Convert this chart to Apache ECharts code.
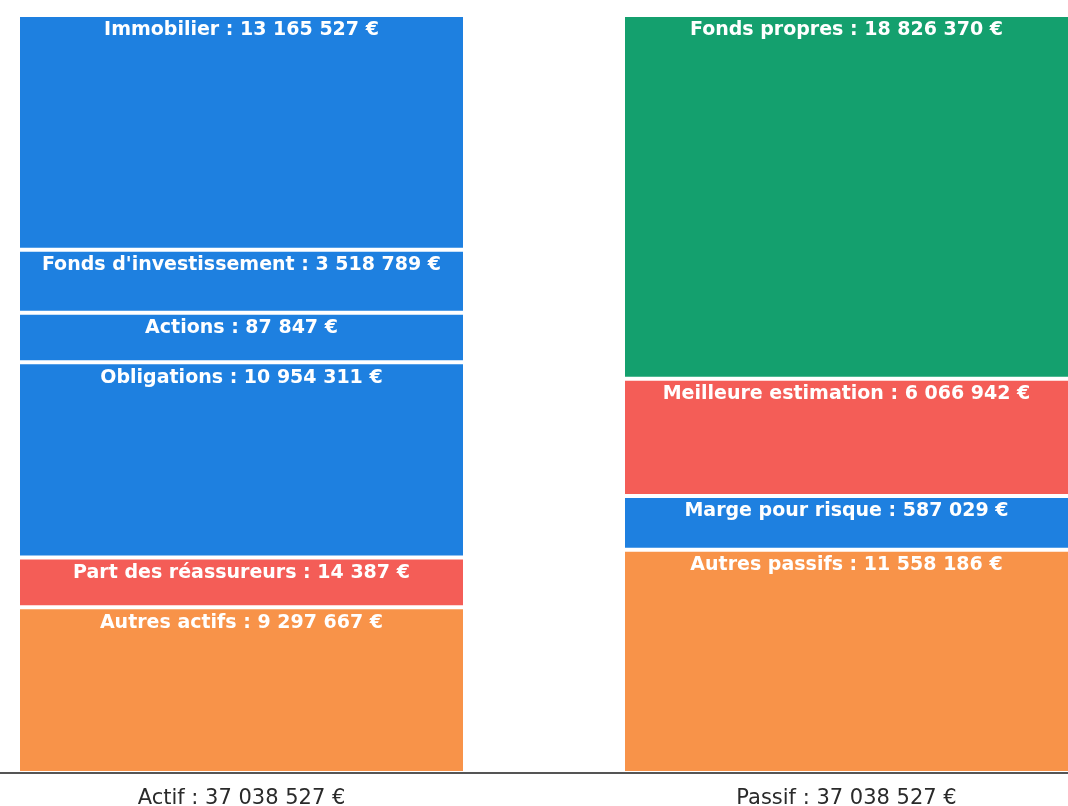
<!DOCTYPE html>
<html>
<head>
<meta charset="utf-8">
<script src="https://cdn.jsdelivr.net/npm/echarts@6/dist/echarts.min.js"></script>
<style>html,body{margin:0;padding:0;background:#fff;}#c{width:1068px;height:806px;}</style>
</head>
<body>
<div id="c"></div>
<script>
// Column categories (axis labels)
const columns = ['Actif', 'Passif'];
const columnTotals = [37038527, 37038527];

// Actif segments, listed bottom to top
const actifNames = ['Autres actifs', 'Part des réassureurs', 'Obligations', 'Actions', "Fonds d'investissement", 'Immobilier'];
const actifValues = [9297667, 14387, 10954311, 87847, 3518789, 13165527];
const actifKinds = ['other', 'reins', 'asset', 'asset', 'asset', 'asset'];

// Passif segments, listed bottom to top
const passifNames = ['Autres passifs', 'Marge pour risque', 'Meilleure estimation', 'Fonds propres'];
const passifValues = [11558186, 587029, 6066942, 18826370];
const passifKinds = ['other', 'asset', 'reins', 'equity'];

const COLORS = { asset: '#1E80E0', reins: '#F45D57', other: '#F89349', equity: '#14A06E' };
// segments smaller than this share of the column are drawn at this minimum share so their label fits
const MIN_SHARE = 0.075;

function fmt(v) { return String(v).replace(/\B(?=(\d{3})+(?!\d))/g, ' '); }

function shares(values, total) {
  const disp = values.map(v => Math.max(v, total * MIN_SHARE));
  const s = disp.reduce((a, b) => a + b, 0);
  return disp.map(d => d / s);
}

const series = [];
function addColumn(names, values, kinds, colIdx) {
  const total = values.reduce((a, b) => a + b, 0);
  const sh = shares(values, total);
  names.forEach((n, i) => {
    const data = columns.map((c, j) => (j === colIdx ? sh[i] : '-'));
    series.push({
      type: 'bar',
      name: n,
      stack: 'bs',
      barWidth: 447,
      data: data,
      itemStyle: { color: COLORS[kinds[i]], borderColor: '#ffffff', borderWidth: 2 },
      label: {
        show: true,
        position: 'insideTop',
        distance: 6,
        color: '#ffffff',
        fontFamily: 'DejaVu Sans',
        fontWeight: 'bold',
        fontSize: 19,
        formatter: () => n + ' : ' + fmt(values[i]) + ' €'
      },
      emphasis: { disabled: true },
      animation: false
    });
  });
}
addColumn(actifNames, actifValues, actifKinds, 0);
addColumn(passifNames, passifValues, passifKinds, 1);

const chart = echarts.init(document.getElementById('c'), null, { renderer: 'canvas' });
chart.setOption({
  backgroundColor: '#ffffff',
  animation: false,
  grid: { left: -61, right: -81, top: 15, bottom: 33, containLabel: false, outerBoundsMode: 'none' },
  xAxis: {
    type: 'category',
    data: columns,
    z: 10,
    axisLine: { lineStyle: { color: '#555555', width: 2 } },
    axisTick: { show: false },
    axisLabel: {
      margin: 15,
      color: '#2a2a2a',
      fontFamily: 'DejaVu Sans',
      fontSize: 21,
      formatter: (v, idx) => v + ' : ' + fmt(columnTotals[idx]) + ' €'
    }
  },
  yAxis: { type: 'value', min: 0, max: 1, show: false, splitLine: { show: false } },
  series: series
});
</script>
</body>
</html>
